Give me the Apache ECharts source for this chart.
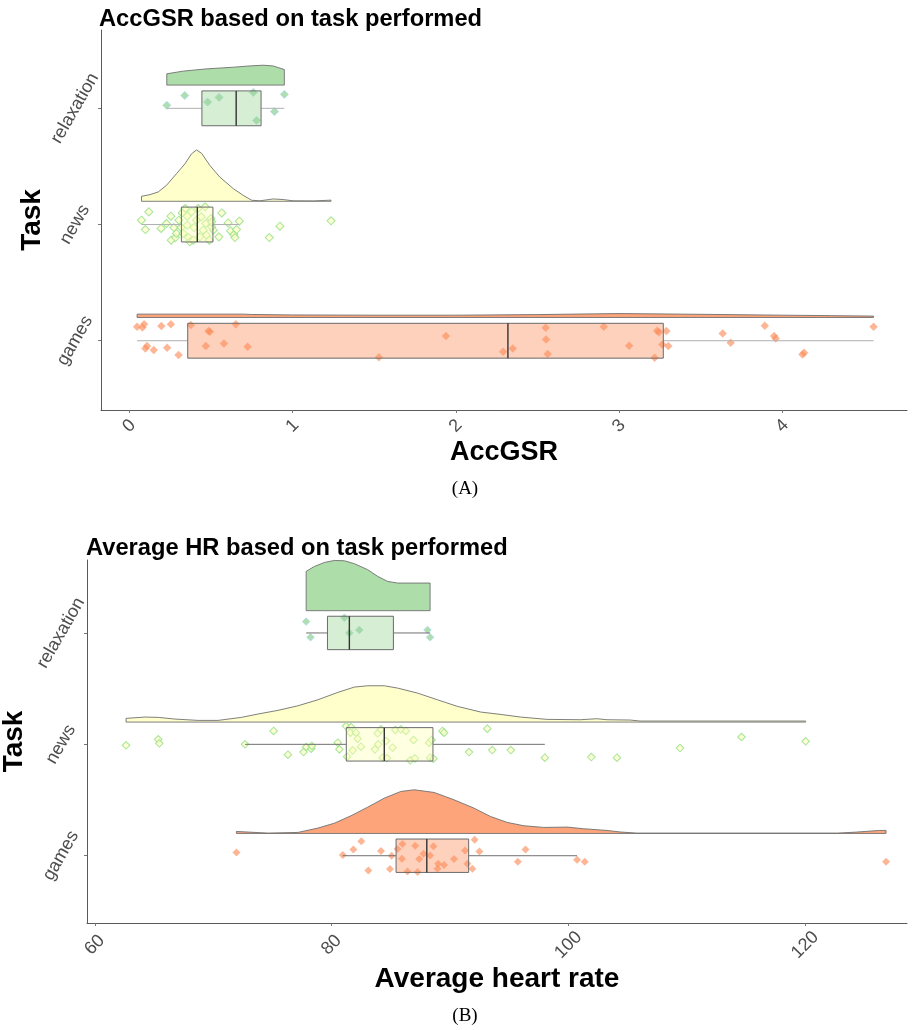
<!DOCTYPE html>
<html><head><meta charset="utf-8">
<script src="https://cdn.jsdelivr.net/npm/echarts@6/dist/echarts.min.js"></script>
<style>html,body{margin:0;padding:0;background:#fff}#c{width:912px;height:1030px}</style>
</head><body><div id="c"></div>
<script>
// ---------- categories / ticks ----------
const categories = ['games', 'news', 'relaxation'];   // y positions 1,2,3
const ticksA = [0, 1, 2, 3, 4];
const ticksB = [60, 80, 100, 120];

// ---------- Panel A : AccGSR ----------
const accRelaxVals = [0.23, 0.34, 0.48, 0.55, 0.76, 0.78, 0.89, 0.95];
const accRelaxJit  = [0.026, 0.111, 0.054, 0.094, 0.137, -0.105, -0.028, 0.12];
const accRelaxDensX = [0.23, 0.33, 0.47, 0.64, 0.74, 0.82, 0.88, 0.95];
const accRelaxDensH = [0.097, 0.12, 0.139, 0.154, 0.165, 0.171, 0.165, 0.134];

const accNewsVals = [0.075,0.12,0.099,0.195,0.228,0.255,0.273,0.257,0.283,0.304,0.318,0.289,0.343,0.355,0.363,0.371,0.381,0.396,0.412,0.422,0.441,0.453,0.465,0.469,0.473,0.5,0.49,0.515,0.549,0.567,0.606,0.621,0.641,0.657,0.674,0.647,0.923,0.858,1.236,0.355,0.324,0.433,0.504,0.505,0.392,0.33];
const accNewsJit  = [0.037,0.109,-0.043,-0.034,0.009,0.072,-0.026,-0.135,-0.112,0.037,-0.026,-0.077,0.138,-0.006,-0.112,-0.149,0.109,-0.026,0.037,0.138,0.066,-0.049,0.152,0.009,-0.092,0.052,-0.135,-0.049,-0.106,0.1,0.014,-0.055,-0.086,-0.043,0.029,-0.112,-0.014,-0.112,0.032,0.072,0.1,-0.106,-0.02,0.023,-0.135,-0.077];
const accNewsDensX = [0.075,0.126,0.177,0.228,0.289,0.341,0.381,0.412,0.443,0.494,0.555,0.637,0.698,0.75,0.8,0.882,0.943,1.005,1.128,1.236];
const accNewsDensH = [0.043,0.057,0.08,0.137,0.237,0.322,0.408,0.442,0.413,0.308,0.208,0.109,0.051,0.009,0.004,0.02,0.015,0.004,0.003,0.01];

const accGamesVals = [0.048,0.081,0.091,0.197,0.255,0.099,0.109,0.150,0.232,0.302,0.377,0.486,0.494,0.469,0.580,0.653,0.725,1.529,1.940,2.290,2.349,2.551,2.553,2.563,2.907,3.062,3.234,3.244,3.290,3.265,3.302,3.218,3.635,3.684,3.893,3.950,3.960,4.124,4.134,4.559];
const accGamesJit  = [0.12,0.115,0.141,0.126,0.141,-0.066,-0.046,-0.08,-0.06,-0.123,0.135,0.083,0.077,-0.046,-0.023,0.141,-0.052,-0.143,0.04,-0.095,-0.066,0.112,0.011,-0.115,0.12,-0.043,0.086,0.072,0.083,-0.032,-0.046,-0.146,0.063,-0.017,0.129,0.04,0.02,-0.118,-0.103,0.12];
const accGamesDensX = [0.048,0.70,0.75,1.0,1.5,2.0,2.5,3.0,3.3,3.6,4.0,4.3,4.559];
const accGamesDensH = [0.029,0.029,0.026,0.022,0.02,0.02,0.025,0.034,0.03,0.026,0.02,0.016,0.012];

// ---------- Panel B : Average heart rate ----------
const hrRelaxVals = [77.85, 78.22, 81.08, 81.5, 82.34, 88.1, 88.32];
const hrRelaxJit  = [0.102, -0.039, 0.137, 0, 0.027, 0.027, -0.039];
const hrRelaxDensX = [77.85,78.55,79.4,80.24,81.08,81.92,83.05,83.89,84.73,85.57,86.69,88.32];
const hrRelaxDensH = [0.353,0.397,0.433,0.451,0.448,0.422,0.368,0.308,0.263,0.248,0.248,0.248];

const hrNewsVals = [62.64,65.36,65.45,75.10,72.69,76.31,77.63,77.85,78.27,78.33,80.52,80.66,81.22,81.64,81.59,82.06,82.2,81.78,82.48,81.31,83.89,83.94,83.66,84.17,84.59,85.15,84.31,84.67,85.38,85.85,86.27,86.92,86.64,87.03,88.24,88.44,88.32,88.6,89.36,89.50,91.61,93.15,93.57,95.14,98.01,101.94,104.1,109.43,114.62,120.04];
const hrNewsJit  = [-0.009,0.045,0.009,0.12,0,-0.093,-0.069,-0.024,-0.039,-0.015,0.015,-0.045,0.164,0.155,0.105,0.105,0.051,-0.054,-0.021,-0.111,0.099,0,-0.045,0.135,0.03,-0.03,-0.12,-0.123,0.129,0.135,0.12,0.039,-0.143,-0.126,0.015,0.039,-0.12,-0.129,0.12,0.105,-0.069,0.141,-0.051,-0.051,-0.12,-0.114,-0.12,-0.033,0.066,0.027];
const hrNewsDensX = [62.64,64.24,65.36,66.76,68.73,70.41,72.38,73.78,75.47,77.15,78.84,80.52,81.92,83.05,84.45,85.57,87.26,88.94,90.62,92.59,94.4,95.96,98.2,101.01,102.41,103.26,105.22,106.06,120.04];
const hrNewsDensH = [0.033,0.045,0.042,0.027,0.015,0.015,0.042,0.072,0.105,0.146,0.2,0.266,0.314,0.326,0.326,0.305,0.26,0.2,0.141,0.09,0.067,0.045,0.024,0.021,0.03,0.021,0.018,0.009,0.009];

const hrGamesVals = [71.96,80.94,81.84,82.51,83.1,84.17,84.93,85.07,85.57,85.99,85.94,86.41,87.06,87.26,87.4,87.76,88.32,88.6,89.0,88.94,89.5,90.34,91.27,91.47,91.89,92.08,92.48,95.73,96.38,100.73,101.38,126.83];
const hrGamesJit  = [0.03,0.006,0.057,0.129,-0.132,0.042,-0.12,0,0.06,0.105,-0.027,-0.141,0.09,-0.146,-0.03,0.018,0.003,0.084,-0.072,-0.117,-0.084,-0.03,0.048,-0.072,-0.117,0.144,0.039,-0.054,0.057,-0.036,-0.054,-0.054];
const hrGamesDensX = [71.96,74.62,77.15,78.84,80.24,81.64,83.05,84.45,85.85,86.98,88.66,90.34,92.03,93.43,94.83,96.24,97.92,99.89,101.29,103.26,104.38,105.78,122.76,124.31,126.27,126.83];
const hrGamesDensH = [0.018,0.003,0.009,0.048,0.092,0.159,0.236,0.317,0.377,0.392,0.368,0.302,0.227,0.152,0.099,0.069,0.054,0.057,0.042,0.027,0.013,0.003,0.003,0.012,0.027,0.027];

// ---------- styling ----------
const COL = {
  relaxation: {dens:'rgba(153,213,148,0.8)', box:'rgba(153,213,148,0.4)', pt:{color:'rgba(150,212,152,0.95)', borderColor:'#a9d9e3', borderWidth:1}},
  news:       {dens:'rgba(255,255,191,0.8)', box:'rgba(255,255,191,0.45)', pt:{color:'rgba(255,255,200,0.9)', borderColor:'#95e086', borderWidth:1.1}},
  games:      {dens:'rgba(252,141,89,0.8)',  box:'rgba(252,141,89,0.4)',  pt:{color:'rgba(252,141,89,0.8)', borderColor:'rgba(252,141,89,0.5)', borderWidth:0.5}}
};
const BASE = 0.2, BOXH = 0.15;
const FONT = '"Liberation Sans", Arial, sans-serif';

function quantile(s, p){ const pos=(s.length-1)*p, lo=Math.floor(pos), hi=Math.ceil(pos); return s[lo]+(s[hi]-s[lo])*(pos-lo); }
function boxStats(vals){
  const s=[...vals].sort((a,b)=>a-b);
  const q1=quantile(s,0.25), med=quantile(s,0.5), q3=quantile(s,0.75), iqr=q3-q1;
  const lo=s.find(v=>v>=q1-1.5*iqr);
  const hi=[...s].reverse().find(v=>v<=q3+1.5*iqr);
  return {q1,med,q3,lo,hi};
}

function panelSeries(idx, groups, opt){
  const out=[];
  out.push({
    type:'custom', xAxisIndex:idx, yAxisIndex:idx, z:1, silent:true, clip:false,
    data: groups.map(g=>[g.densX[0], g.cat]),
    renderItem:(params, api)=>{
      const g=groups[params.dataIndex];
      const pts=g.densX.map((x,i)=>api.coord([x, g.cat+BASE+g.densH[i]]));
      pts.push(api.coord([g.densX[g.densX.length-1], g.cat+BASE]));
      pts.push(api.coord([g.densX[0], g.cat+BASE]));
      return {type:'polygon', shape:{points:pts}, style:{fill:COL[g.name].dens, stroke:'#707070', lineWidth:0.9}};
    }
  });
  groups.forEach(g=>{
    out.push({
      type:'scatter', xAxisIndex:idx, yAxisIndex:idx, z:2, silent:true,
      symbol:'diamond', symbolSize:opt.sym,
      data:g.vals.map((v,i)=>[v, g.cat+g.jit[i]]),
      itemStyle:COL[g.name].pt
    });
  });
  out.push({
    type:'custom', xAxisIndex:idx, yAxisIndex:idx, z:3, silent:true, clip:false,
    data: groups.map(g=>[boxStats(g.vals).med, g.cat]),
    renderItem:(params, api)=>{
      const g=groups[params.dataIndex], s=boxStats(g.vals), c=g.cat;
      const pLo=api.coord([s.lo,c]), pQ1=api.coord([s.q1,c]), pQ3=api.coord([s.q3,c]), pHi=api.coord([s.hi,c]), pM=api.coord([s.med,c]);
      const yT=api.coord([s.q1,c+BOXH])[1], yB=api.coord([s.q1,c-BOXH])[1];
      return {type:'group', children:[
        {type:'line', shape:{x1:pLo[0],y1:pLo[1],x2:pQ1[0],y2:pQ1[1]}, style:{stroke:opt.whisk, lineWidth:1}},
        {type:'line', shape:{x1:pQ3[0],y1:pQ3[1],x2:pHi[0],y2:pHi[1]}, style:{stroke:opt.whisk, lineWidth:1}},
        {type:'rect', shape:{x:pQ1[0], y:yT, width:pQ3[0]-pQ1[0], height:yB-yT}, style:{fill:COL[g.name].box, stroke:'#6b6b6b', lineWidth:1}},
        {type:'line', shape:{x1:pM[0],y1:yT,x2:pM[0],y2:yB}, style:{stroke:'#333', lineWidth:1.4}}
      ]};
    }
  });
  return out;
}

const groupsA = [
  {name:'games', cat:1, vals:accGamesVals, jit:accGamesJit, densX:accGamesDensX, densH:accGamesDensH},
  {name:'news', cat:2, vals:accNewsVals, jit:accNewsJit, densX:accNewsDensX, densH:accNewsDensH},
  {name:'relaxation', cat:3, vals:accRelaxVals, jit:accRelaxJit, densX:accRelaxDensX, densH:accRelaxDensH}
];
const groupsB = [
  {name:'games', cat:1, vals:hrGamesVals, jit:hrGamesJit, densX:hrGamesDensX, densH:hrGamesDensH},
  {name:'news', cat:2, vals:hrNewsVals, jit:hrNewsJit, densX:hrNewsDensX, densH:hrNewsDensH},
  {name:'relaxation', cat:3, vals:hrRelaxVals, jit:hrRelaxJit, densX:hrRelaxDensX, densH:hrRelaxDensH}
];

function xAxisCfg(idx, min, max, ticks, name, gap, margin){
  return {
    type:'value', gridIndex:idx, min, max, splitLine:{show:false},
    axisLine:{show:true, onZero:false, lineStyle:{color:'#5a5a5a', width:1}},
    axisTick:{show:true, customValues:ticks, length:3, lineStyle:{color:'#777'}},
    axisLabel:{customValues:ticks, rotate:45, align:'center', verticalAlign:'middle', margin, fontSize:18, color:'#4d4d4d', fontFamily:FONT},
    name, nameLocation:'middle', nameGap:gap,
    nameTextStyle:{fontSize:idx===0?27:28, fontWeight:'bold', color:'#000', fontFamily:FONT}
  };
}
function yAxisCfg(idx, min, max, gap){
  return {
    type:'value', gridIndex:idx, min, max, splitLine:{show:false},
    axisLine:{show:true, onZero:false, lineStyle:{color:'#5a5a5a', width:1}},
    axisTick:{show:true, customValues:[1,2,3], length:3, lineStyle:{color:'#777'}},
    axisLabel:{customValues:[1,2,3], formatter:v=>categories[Math.round(v)-1], rotate:60, align:'center', verticalAlign:'middle', margin:26, fontSize:18, color:'#4d4d4d', fontFamily:FONT},
    name:'Task', nameLocation:'middle', nameGap:gap, nameRotate:90, nameMoveOverlap:false,
    nameTextStyle:{fontSize:28, fontWeight:'bold', color:'#000', fontFamily:FONT}
  };
}

const chart = echarts.init(document.getElementById('c'), null, {renderer:'canvas'});
chart.setOption({
  animation:false,
  backgroundColor:'#fff',
  title:[
    {text:'AccGSR based on task performed', left:99, top:7, padding:0, textStyle:{fontSize:23.7, fontWeight:'bold', color:'#000', fontFamily:FONT}},
    {text:'Average HR based on task performed', left:86, top:536, padding:0, textStyle:{fontSize:23.7, fontWeight:'bold', color:'#000', fontFamily:FONT}}
  ],
  grid:[
    {left:101, right:5, top:30, height:380, containLabel:false, outerBoundsMode:'none'},
    {left:87, right:5, top:560, height:363, containLabel:false, outerBoundsMode:'none'}
  ],
  xAxis:[
    xAxisCfg(0, -0.173, 4.764, ticksA, 'AccGSR', 23, 16),
    xAxisCfg(1, 59.34, 128.6, ticksB, 'Average heart rate', 40, 22)
  ],
  yAxis:[
    yAxisCfg(0, 0.404, 3.674, 55),
    yAxisCfg(1, 0.396, 3.655, 59)
  ],
  series:[].concat(
    panelSeries(0, groupsA, {sym:8, whisk:'#b0b0b0'}),
    panelSeries(1, groupsB, {sym:7.5, whisk:'#707070'})
  ),
  graphic:[
    {type:'text', x:465, y:489, style:{text:'(A)', align:'center', verticalAlign:'middle', font:'19px "Liberation Serif", "DejaVu Serif", serif', fill:'#000'}},
    {type:'text', x:465, y:1016, style:{text:'(B)', align:'center', verticalAlign:'middle', font:'19px "Liberation Serif", "DejaVu Serif", serif', fill:'#000'}}
  ]
});
</script>
</body></html>
